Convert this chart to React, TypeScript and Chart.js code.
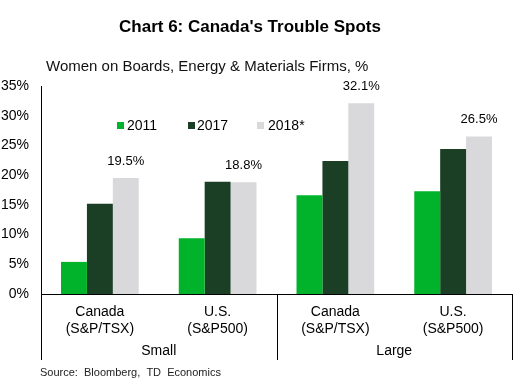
import React, { useEffect, useRef } from "react";
import { Chart, registerables } from "chart.js";

Chart.register(...registerables);

const categories: string[][] = [
  ["Canada", "(S&P/TSX)"],
  ["U.S.", "(S&P500)"],
  ["Canada", "(S&P/TSX)"],
  ["U.S.", "(S&P500)"],
];
const groups = ["Small", "Large"];
const seriesNames = ["2011", "2017", "2018*"];
const values2011 = [5.4, 9.4, 16.6, 17.3];
const values2017 = [15.2, 18.9, 22.4, 24.4];
const values2018 = [19.5, 18.8, 32.1, 26.5];
const colors = ["#00B32A", "#1A3F25", "#D9D9DB"];

const FONT = "'Liberation Sans', Arial, sans-serif";

const overlayPlugin = {
  id: "overlay",
  afterDraw(chart: any) {
    const ctx = chart.ctx as CanvasRenderingContext2D;
    const area = chart.chartArea;
    const xs = chart.scales.x;
    ctx.save();
    // title
    ctx.fillStyle = "#000";
    ctx.textBaseline = "middle";
    ctx.textAlign = "center";
    ctx.font = `bold 17px ${FONT}`;
    ctx.fillText("Chart 6: Canada's Trouble Spots", 250, 27);
    // subtitle
    ctx.textAlign = "left";
    ctx.font = `15px ${FONT}`;
    ctx.fillStyle = "#111";
    ctx.fillText("Women on Boards, Energy & Materials Firms, %", 46, 67);
    // legend
    const legendSq = [117, 188, 257];
    const legendTx = [127, 197, 268];
    ctx.font = `14px ${FONT}`;
    for (let i = 0; i < seriesNames.length; i++) {
      ctx.fillStyle = colors[i];
      ctx.fillRect(legendSq[i], 122, 7, 7);
      ctx.fillStyle = "#000";
      ctx.fillText(seriesNames[i], legendTx[i], 126);
    }
    // data labels on 2018 series
    const meta = chart.getDatasetMeta(2);
    ctx.textAlign = "center";
    ctx.font = `13px ${FONT}`;
    meta.data.forEach((el: any, i: number) => {
      ctx.fillText(values2018[i].toFixed(1) + "%", el.x, el.y - 17);
    });
    // group dividers
    const mid = (xs.getPixelForValue(1) + xs.getPixelForValue(2)) / 2;
    const divs = [area.left, mid, area.right];
    ctx.strokeStyle = "#000";
    ctx.lineWidth = 1;
    ctx.beginPath();
    divs.forEach((x) => {
      const px = Math.round(x) + 0.5;
      ctx.moveTo(px, area.bottom);
      ctx.lineTo(px, 360);
    });
    ctx.stroke();
    // group labels
    ctx.font = `14px ${FONT}`;
    ctx.fillText(groups[0], (divs[0] + divs[1]) / 2, 351);
    ctx.fillText(groups[1], (divs[1] + divs[2]) / 2, 351);
    // source
    ctx.textAlign = "left";
    ctx.font = `11px ${FONT}`;
    ctx.fillStyle = "#222";
    ctx.fillText("Source:  Bloomberg,  TD  Economics", 40, 373);
    ctx.restore();
  },
};

export default function App() {
  const ref = useRef<HTMLCanvasElement | null>(null);
  useEffect(() => {
    if (!ref.current) return;
    const chart = new Chart(ref.current, {
      type: "bar",
      data: {
        labels: categories,
        datasets: [values2011, values2017, values2018].map((d, i) => ({
          label: seriesNames[i],
          data: d,
          backgroundColor: colors[i],
          borderWidth: 0,
          categoryPercentage: 0.66,
          barPercentage: 1,
        })),
      },
      options: {
        responsive: false,
        animation: false,
        layout: { padding: { top: 86, right: 5, left: 0, bottom: 0 } },
        plugins: {
          legend: { display: false },
          title: { display: false },
          tooltip: { enabled: false },
        },
        scales: {
          x: {
            grid: { display: false, drawTicks: false },
            border: { display: true, color: "#000", width: 1 },
            ticks: {
              color: "#000",
              font: { family: FONT, size: 14 },
              padding: 10,
              maxRotation: 0,
              autoSkip: false,
            },
            afterFit: (s: any) => {
              s.height = 92;
            },
          },
          y: {
            min: 0,
            max: 35,
            grid: { display: false, drawTicks: false },
            border: { display: true, color: "#000", width: 1 },
            ticks: {
              stepSize: 5,
              color: "#000",
              font: { family: FONT, size: 14 },
              padding: 12,
              callback: (v: any) => `${v}%`,
            },
            afterFit: (s: any) => {
              s.width = 41;
            },
          },
        },
      },
      plugins: [overlayPlugin],
    });
    return () => chart.destroy();
  }, []);
  return (
    <div style={{ position: "fixed", left: 0, top: 0, width: 517, height: 386, background: "#fff" }}>
      <canvas ref={ref} width={517} height={386} />
    </div>
  );
}
